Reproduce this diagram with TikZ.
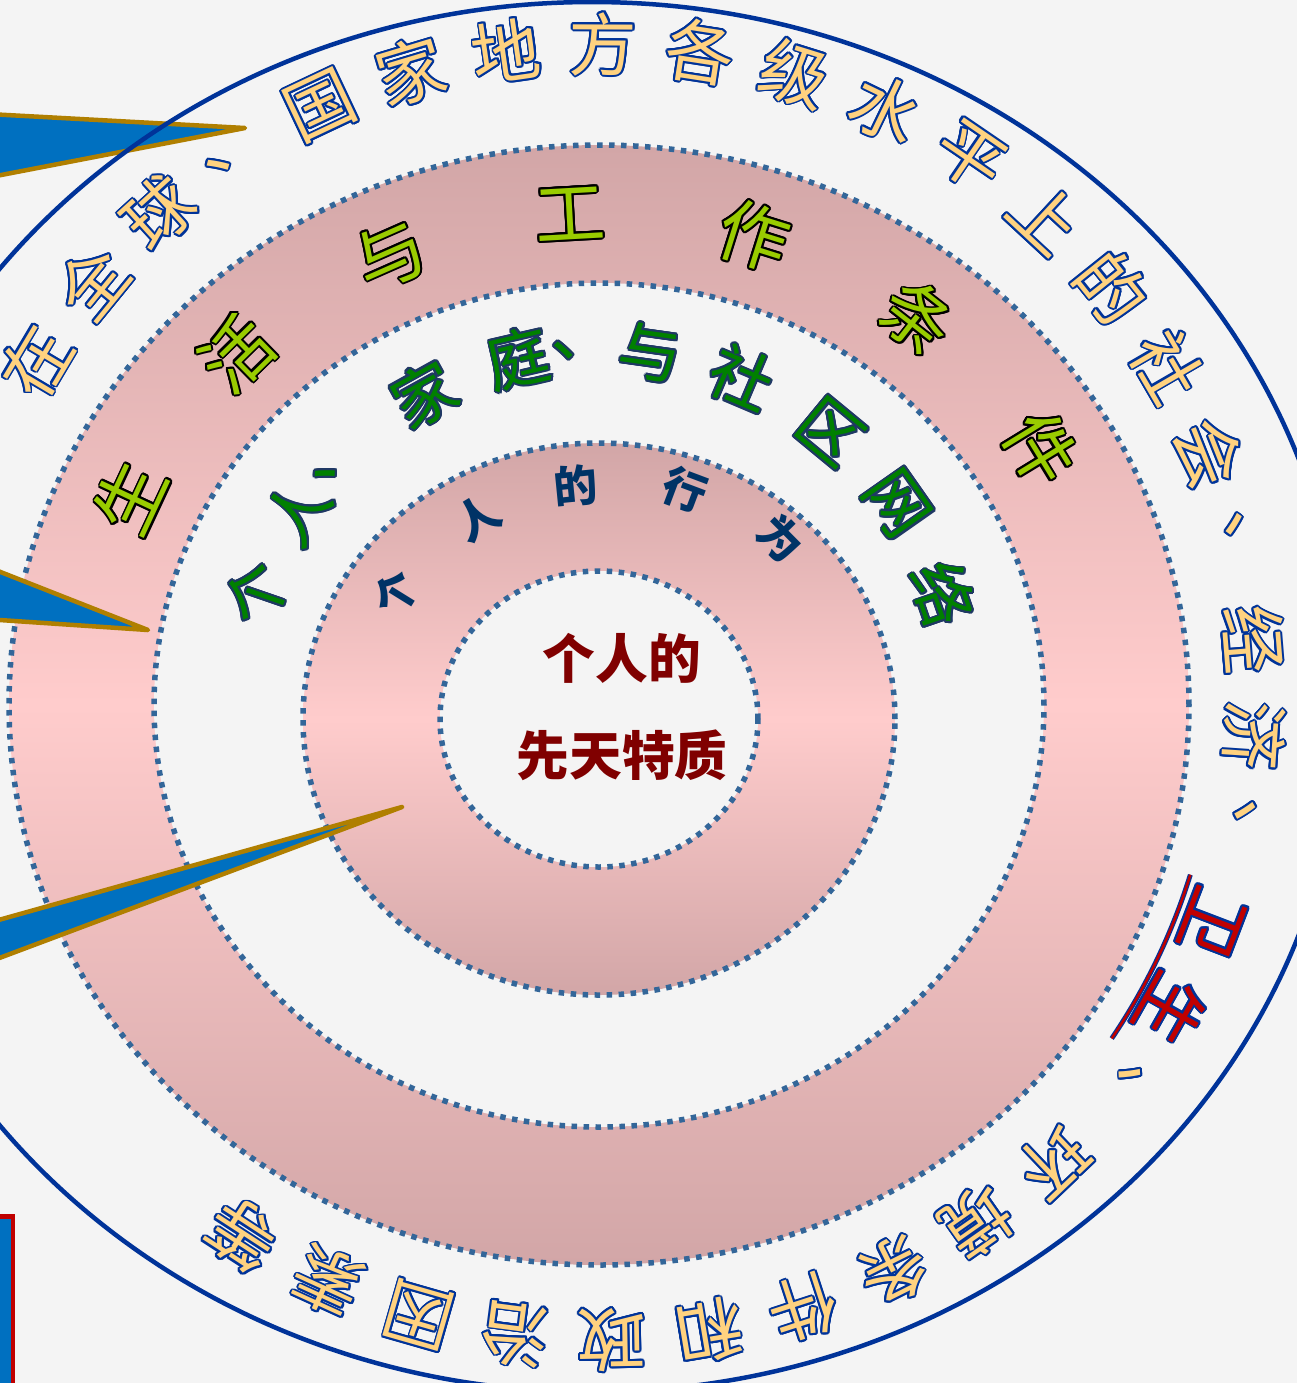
\documentclass[tikz,border=0pt]{standalone}
\usepackage{fontspec}
\usepackage[copies]{contour}
\newfontfamily\cjk{Noto Sans CJK SC}
\usetikzlibrary{positioning}

\definecolor{bgray}{HTML}{F4F4F4}
\definecolor{ringdark}{HTML}{D2A6A7}
\definecolor{ringlight}{HTML}{FFCCCC}
\definecolor{dotblue}{HTML}{336699}
\definecolor{rimblue}{HTML}{003399}
\definecolor{outerfill}{HTML}{FFD27F}
\definecolor{inkblue}{HTML}{003399}
\definecolor{leafgreen}{HTML}{99CC00}
\definecolor{netgreen}{HTML}{008000}
\definecolor{netink}{HTML}{1F3864}
\definecolor{behavnavy}{HTML}{003366}
\definecolor{corered}{HTML}{800000}
\definecolor{hlred}{HTML}{C00000}
\definecolor{wedgeblue}{HTML}{0070C0}
\definecolor{wedgegold}{HTML}{B07F00}

\contourlength{0.55pt}

\tikzset{
  ringfill/.style={top color=ringdark, bottom color=ringdark, middle color=ringlight},
  ringborder/.style={draw=dotblue, line width=0.55mm, dash pattern=on 0.55mm off 0.65mm},
  outerchar/.style={font=\cjk\fontsize{19.5pt}{20pt}\selectfont, inner sep=0pt},
  workchar/.style={font=\cjk\fontsize{20pt}{20pt}\selectfont, text=leafgreen, inner sep=0pt},
  netchar/.style={font=\cjk\fontsize{18pt}{18pt}\selectfont, text=netgreen, inner sep=0pt},
  behavchar/.style={font=\cjk\bfseries\fontsize{12.5pt}{13pt}\selectfont, text=behavnavy, inner sep=0pt},
  coretext/.style={font=\cjk\bfseries\fontsize{15pt}{15pt}\selectfont, text=corered, inner sep=0pt},
  wedge/.style={fill=wedgeblue, draw=wedgegold, line width=0.45mm, line join=round},
  uline/.style={draw=inkblue, double=hlred, double distance=0.25mm, line width=0.12mm}
}

\begin{document}
\begin{tikzpicture}[x=0.1mm, y=0.1mm]
  \fill[bgray] (0,0) rectangle (1297,-1383);
  \useasboundingbox (0,0) rectangle (1297,-1383);

  % centres of the rings
  \coordinate (C) at (599,-705);
  \coordinate (K) at (599,-719);
  \coordinate (T) at (600,-692);
  \coordinate (N) at (600,-712);

  % rings
  \path[ringfill] (C) ellipse [x radius=590, y radius=560];
  \fill[bgray] (C) ellipse [x radius=445, y radius=422];
  \path[ringfill] (K) ellipse [x radius=296, y radius=276];
  \fill[bgray] (K) ellipse [x radius=159, y radius=148];
  \draw[ringborder] (C) ellipse [x radius=590, y radius=560];
  \draw[ringborder] (C) ellipse [x radius=445, y radius=422];
  \draw[ringborder] (K) ellipse [x radius=296, y radius=276];
  \draw[ringborder] (K) ellipse [x radius=159, y radius=148];

  % outer band
  \begin{scope}[shift={(T)}]
    \foreach \ch [count=\i] in {在,全,球,、,国,家,地,方,各,级,水,平,上,的,社,会,、,经,济,、,卫,生,、,环,境,条,件,和,政,治,因,素,等} {
      \pgfmathsetmacro\ang{149.3-8.51*(\i-1)}
      \ifnum\i=21 \def\tc{hlred}\else\ifnum\i=22 \def\tc{hlred}\else\def\tc{outerfill}\fi\fi
      \node[outerchar, text=\tc, rotate=\ang-90] (out\i) at (\ang:655 and 647) {\contour{inkblue}{\ch}};
    }
    \draw[uline] (-17.2:618) arc[start angle=-17.2, end angle=-34.1, radius=618];
  \end{scope}

  % living and working conditions
  \begin{scope}[shift={(C)}]
    \foreach \ch [count=\i] in {生,活,与,工,作,条,件} {
      \pgfmathsetmacro\ang{155-20.6*(\i-1)}
      \node[workchar, rotate=\ang-90] (work\i) at (\ang:517 and 491) {\contour{black}{\ch}};
    }
  \end{scope}

  % social and community networks
  \begin{scope}[shift={(N)}]
    \foreach \ch/\ang [count=\i] in {个/161, 人/146.5, 、/136, 家/119, 庭/103, 、/92.7, 与/82, 社/67, 区/50.5, 网/35, 络/19}
      \node[netchar, rotate=\ang-90] (net\i) at (\ang:362) {\contour{netink}{\ch}};
  \end{scope}

  % individual lifestyle
  \begin{scope}[shift={(K)}]
    \foreach \ch/\ang/\rad [count=\i] in {个/148.2/239, 人/121/235, 的/95.6/234, 行/69.4/245, 为/44.8/257}
      \node[behavchar, rotate=\ang-90] (behav\i) at (\ang:\rad) {\ch};
  \end{scope}

  \node[coretext] (core1) at (622,-658) {个人的};
  \node[coretext] (core2) at (622,-755) {先天特质};

  % pointers from the left
  \draw[wedge] (-30,-113) -- (245,-128) -- (-30,-181) -- cycle;
  \draw[wedge] (-30,-560) -- (148,-630) -- (-30,-618) -- cycle;
  \draw[wedge] (-30,-928) -- (402,-807) -- (-30,-969) -- cycle;

  \draw[rimblue, line width=0.45mm] (592,-697) ellipse [x radius=752, y radius=695];

  \draw[draw=hlred, fill=wedgeblue, line width=0.5mm] (-40,-1216) rectangle (13,-1450);
\end{tikzpicture}
\end{document}
